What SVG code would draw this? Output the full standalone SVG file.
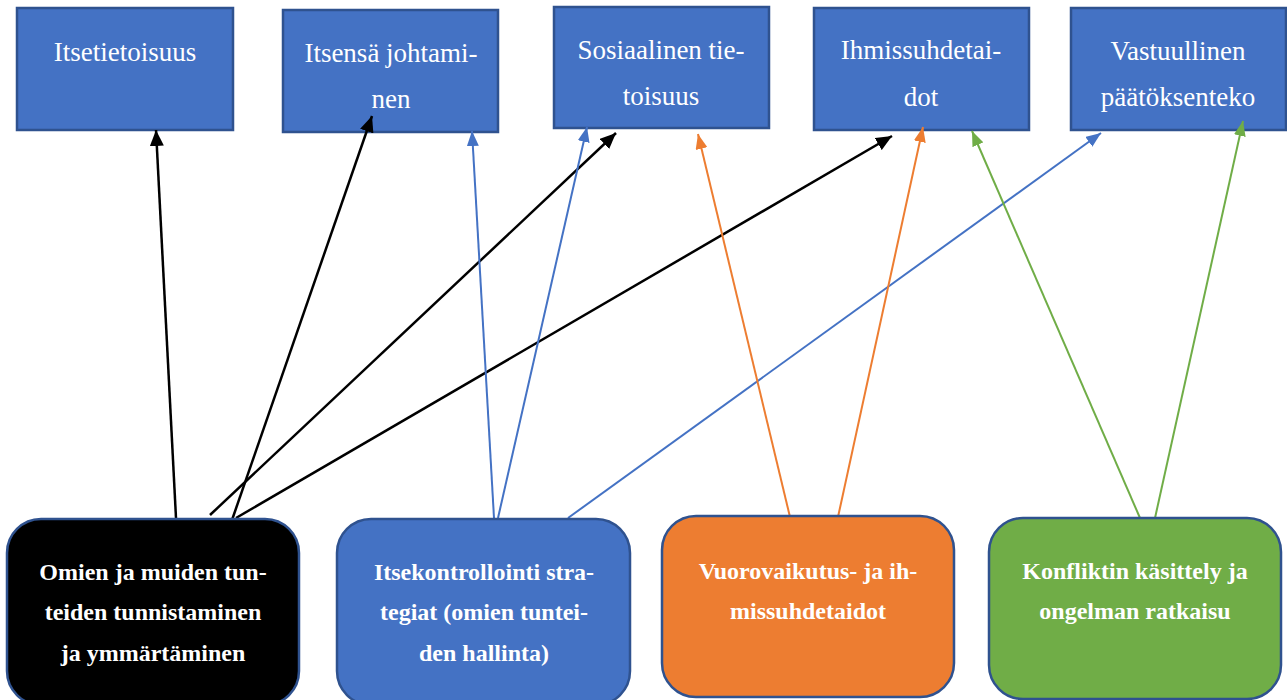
<svg xmlns="http://www.w3.org/2000/svg" width="1287" height="700" viewBox="0 0 1287 700">
<style>
.top{fill:#4472C4;stroke:#2F528F;stroke-width:2.5}
.tt{font-family:"Liberation Serif","Times New Roman",serif;font-size:27px;fill:#fff;text-anchor:middle}
.bt{font-family:"Liberation Serif","Times New Roman",serif;font-size:24px;font-weight:bold;fill:#fff;text-anchor:middle}
.bb{stroke:#2F528F;stroke-width:2.5}
.k{stroke:#000;stroke-width:2.5;fill:none}
.b{stroke:#4472C4;stroke-width:2;fill:none}
.o{stroke:#ED7D31;stroke-width:2;fill:none}
.g{stroke:#70AD47;stroke-width:2;fill:none}
</style>
<defs>
<marker id="ak" markerUnits="userSpaceOnUse" markerWidth="16" markerHeight="14" viewBox="0 0 16 14" refX="16" refY="7" orient="auto"><path d="M0,0 L16,7 L0,14 z" fill="#000"/></marker>
<marker id="ab" markerUnits="userSpaceOnUse" markerWidth="15" markerHeight="12" viewBox="0 0 15 12" refX="15" refY="6" orient="auto"><path d="M0,0 L15,6 L0,12 z" fill="#4472C4"/></marker>
<marker id="ao" markerUnits="userSpaceOnUse" markerWidth="15" markerHeight="12" viewBox="0 0 15 12" refX="15" refY="6" orient="auto"><path d="M0,0 L15,6 L0,12 z" fill="#ED7D31"/></marker>
<marker id="ag" markerUnits="userSpaceOnUse" markerWidth="15" markerHeight="12" viewBox="0 0 15 12" refX="15" refY="6" orient="auto"><path d="M0,0 L15,6 L0,12 z" fill="#70AD47"/></marker>
</defs>
<rect width="1287" height="700" fill="#fff"/>
<g id="n1"><rect class="top" x="17" y="8" width="216" height="122"/><text class="tt" x="125" y="61">Itsetietoisuus</text></g>
<g id="n2"><rect class="top" x="283" y="10" width="215" height="122"/><text class="tt" x="391" y="62">Itsensä johtami-</text><text class="tt" x="391" y="108">nen</text></g>
<g id="n3"><rect class="top" x="554" y="7" width="215" height="121"/><text class="tt" x="661" y="59">Sosiaalinen tie-</text><text class="tt" x="661" y="105">toisuus</text></g>
<g id="n4"><rect class="top" x="814" y="8" width="215" height="122"/><text class="tt" x="921" y="59">Ihmissuhdetai-</text><text class="tt" x="921" y="106">dot</text></g>
<g id="n5"><rect class="top" x="1071" y="8" width="215" height="122"/><text class="tt" x="1178" y="60">Vastuullinen</text><text class="tt" x="1178" y="106">päätöksenteko</text></g>
<g id="connectors">
<line class="k" x1="176" y1="518" x2="156" y2="130" marker-end="url(#ak)"/>
<line class="k" x1="232" y1="520" x2="372" y2="116" marker-end="url(#ak)"/>
<line class="k" x1="210" y1="515" x2="616" y2="133" marker-end="url(#ak)"/>
<line class="k" x1="236" y1="518" x2="892" y2="136" marker-end="url(#ak)"/>
<line class="b" x1="494" y1="518" x2="472" y2="131" marker-end="url(#ab)"/>
<line class="b" x1="498" y1="518" x2="587" y2="127" marker-end="url(#ab)"/>
<line class="b" x1="568" y1="518" x2="1101" y2="133" marker-end="url(#ab)"/>
<line class="o" x1="790" y1="517" x2="698" y2="134" marker-end="url(#ao)"/>
<line class="o" x1="838" y1="517" x2="923" y2="127" marker-end="url(#ao)"/>
<line class="g" x1="1140" y1="518" x2="972" y2="131" marker-end="url(#ag)"/>
<line class="g" x1="1155" y1="518" x2="1243" y2="121" marker-end="url(#ag)"/>
</g>
<g id="b1"><rect class="bb" x="7" y="519" width="292" height="186" rx="34" fill="#000"/><text class="bt" x="153" y="580">Omien ja muiden tun-</text><text class="bt" x="153" y="620">teiden tunnistaminen</text><text class="bt" x="153" y="661">ja ymmärtäminen</text></g>
<g id="b2"><rect class="bb" x="337" y="519" width="293" height="186" rx="34" fill="#4472C4"/><text class="bt" x="484" y="580">Itsekontrollointi stra-</text><text class="bt" x="484" y="620">tegiat (omien tuntei-</text><text class="bt" x="484" y="661">den hallinta)</text></g>
<g id="b3"><rect class="bb" x="662" y="516" width="292" height="181" rx="34" fill="#ED7D31"/><text class="bt" x="808" y="579">Vuorovaikutus- ja ih-</text><text class="bt" x="808" y="619">missuhdetaidot</text></g>
<g id="b4"><rect class="bb" x="989" y="518" width="292" height="181" rx="34" fill="#70AD47"/><text class="bt" x="1135" y="579">Konfliktin käsittely ja</text><text class="bt" x="1135" y="619">ongelman ratkaisu</text></g>
</svg>
